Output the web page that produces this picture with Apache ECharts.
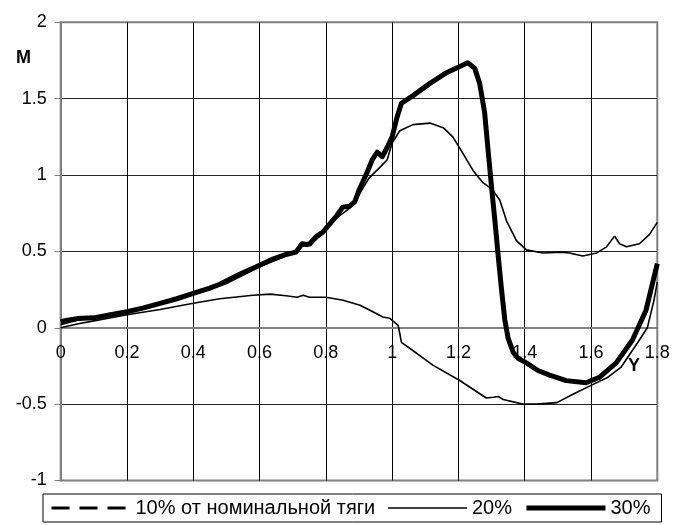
<!DOCTYPE html>
<html>
<head>
<meta charset="utf-8">
<script src="https://cdn.jsdelivr.net/npm/echarts@6/dist/echarts.min.js"></script>
<style>
  html, body { margin: 0; padding: 0; background: #fff; }
  #chart { width: 674px; height: 525px; }
</style>
</head>
<body>
<div id="chart"></div>
<script>
// Series names as shown in the legend
const seriesNames = ['10% от номинальной тяги', '20%', '30%'];

// Axis ticks
const xTicks = [0, 0.2, 0.4, 0.6, 0.8, 1, 1.2, 1.4, 1.6, 1.8];
const yTicks = [-1, -0.5, 0, 0.5, 1, 1.5, 2];

// 10% of nominal thrust
const x10 = [0, 0.05, 0.1, 0.2, 0.3, 0.4, 0.48, 0.58, 0.632, 0.68, 0.713, 0.732, 0.75, 0.8, 0.852, 0.903, 0.933, 0.972, 0.993, 1.003, 1.018, 1.023, 1.028, 1.074, 1.124, 1.204, 1.284, 1.305, 1.32, 1.335, 1.395, 1.435, 1.497, 1.55, 1.6, 1.65, 1.69, 1.74, 1.77, 1.79, 1.8];
const y10 = [0.0, 0.025, 0.045, 0.085, 0.12, 0.16, 0.19, 0.213, 0.22, 0.21, 0.2, 0.213, 0.2, 0.2, 0.18, 0.147, 0.115, 0.07, 0.062, 0.043, 0.016, -0.036, -0.095, -0.167, -0.246, -0.345, -0.46, -0.455, -0.45, -0.47, -0.5, -0.5, -0.49, -0.43, -0.377, -0.325, -0.26, -0.1, 0.0, 0.18, 0.3];

// 20%
const x20 = [0, 0.05, 0.1, 0.2, 0.3, 0.4, 0.5, 0.6, 0.68, 0.728, 0.75, 0.79, 0.833, 0.87, 0.9, 0.93, 0.963, 0.985, 1.0, 1.023, 1.063, 1.114, 1.154, 1.183, 1.214, 1.244, 1.274, 1.3, 1.325, 1.345, 1.375, 1.405, 1.455, 1.51, 1.535, 1.575, 1.617, 1.647, 1.671, 1.686, 1.707, 1.746, 1.776, 1.8];
const y20 = [0.02, 0.05, 0.065, 0.1, 0.155, 0.22, 0.29, 0.4, 0.47, 0.535, 0.54, 0.615, 0.72, 0.78, 0.87, 0.98, 1.05, 1.1, 1.21, 1.29, 1.33, 1.34, 1.31, 1.25, 1.14, 1.03, 0.95, 0.91, 0.835, 0.7, 0.57, 0.51, 0.49, 0.495, 0.49, 0.47, 0.49, 0.53, 0.6, 0.55, 0.53, 0.55, 0.61, 0.69];

// 30%
const x30 = [0, 0.02, 0.05, 0.1, 0.15, 0.2, 0.25, 0.3, 0.35, 0.4, 0.45, 0.48, 0.54, 0.6, 0.64, 0.68, 0.71, 0.728, 0.742, 0.752, 0.772, 0.79, 0.812, 0.833, 0.851, 0.872, 0.887, 0.9, 0.925, 0.94, 0.955, 0.97, 0.985, 1.0, 1.015, 1.028, 1.063, 1.114, 1.164, 1.204, 1.228, 1.249, 1.264, 1.279, 1.29, 1.3, 1.31, 1.32, 1.33, 1.34, 1.35, 1.365, 1.38, 1.405, 1.44, 1.475, 1.525, 1.585, 1.625, 1.676, 1.725, 1.766, 1.8];
const y30 = [0.04, 0.05, 0.06, 0.065, 0.085, 0.105, 0.13, 0.16, 0.19, 0.225, 0.26, 0.285, 0.35, 0.41, 0.45, 0.48, 0.495, 0.55, 0.545, 0.55, 0.6, 0.625, 0.68, 0.735, 0.79, 0.796, 0.824, 0.9, 1.02, 1.1, 1.15, 1.12, 1.18, 1.25, 1.38, 1.47, 1.52, 1.6, 1.67, 1.71, 1.735, 1.7, 1.6, 1.41, 1.15, 0.92, 0.7, 0.47, 0.25, 0.05, -0.07, -0.16, -0.2, -0.23, -0.28, -0.31, -0.346, -0.36, -0.325, -0.23, -0.08, 0.115, 0.42];

const zip = (xs, ys) => xs.map((x, i) => [x, ys[i]]);

const FONT = '"Liberation Sans", Arial, sans-serif';
const GRAY = '#808080';

// Grid-line colours; the outermost lines blend into the grey frame
const xSplitColors = xTicks.map((t, i) => (i === 0 || i === xTicks.length - 1) ? GRAY : '#000');
const ySplitColors = yTicks.map((t, i) => (i === 0 || i === yTicks.length - 1 || t === 0) ? GRAY : '#222');

const GRID = { left: 60.7, right: 16.7, top: 22.3, bottom: 44.5 };
const plotHeight = 525 - GRID.top - GRID.bottom;
// The x axis runs along y = 0, one third of the way up from the bottom edge
const zeroOffset = -plotHeight * (0 - yTicks[0]) / (yTicks[yTicks.length - 1] - yTicks[0]);

const chart = echarts.init(document.getElementById('chart'), null, { renderer: 'canvas' });

// Legend entries: a bare line sample, no marker in the middle
const legendEntry = (name, lineStyle) => ({
  name,
  lineStyle: Object.assign({ color: '#000', opacity: 1 }, lineStyle),
  itemStyle: { opacity: 0, color: 'transparent', borderWidth: 0 }
});

chart.setOption({
  animation: false,
  backgroundColor: '#fff',
  grid: Object.assign({ show: true, borderColor: GRAY, borderWidth: 2, backgroundColor: 'transparent' }, GRID),
  xAxis: {
    type: 'value',
    position: 'bottom',
    offset: zeroOffset,
    min: xTicks[0], max: xTicks[xTicks.length - 1], interval: 0.2,
    axisLine: { onZero: false, lineStyle: { color: GRAY, width: 2 } },
    axisTick: { show: false },
    axisLabel: { color: '#000', fontSize: 18, fontFamily: FONT, margin: 16,
      formatter: v => String(Math.round(v * 10) / 10) },
    splitLine: { show: true, lineStyle: { color: xSplitColors, width: 1 } }
  },
  yAxis: {
    type: 'value',
    min: yTicks[0], max: yTicks[yTicks.length - 1], interval: 0.5,
    axisLine: { show: true, onZero: false, lineStyle: { color: GRAY, width: 2 } },
    axisTick: { show: true, length: 6, lineStyle: { color: GRAY, width: 1 } },
    axisLabel: { color: '#000', fontSize: 18, fontFamily: FONT, margin: 14 },
    splitLine: { show: true, lineStyle: { color: ySplitColors, width: 1 } }
  },
  legend: {
    left: 43, top: 494,
    orient: 'horizontal',
    borderColor: '#000', borderWidth: 1,
    padding: [4, 11, 4, 7],
    itemWidth: 79, itemHeight: 14, itemGap: 12,
    textStyle: { color: '#000', fontSize: 20, fontFamily: FONT },
    data: [
      legendEntry(seriesNames[0], { width: 3, type: [18, 10] }),
      legendEntry(seriesNames[1], { width: 1.5 }),
      legendEntry(seriesNames[2], { width: 5 })
    ]
  },
  graphic: [
    { type: 'text', left: 16, top: 49, style: { text: 'M', font: 'bold 18px ' + FONT, fill: '#000' } },
    { type: 'text', left: 628, top: 357, style: { text: 'Y', font: 'bold 18px ' + FONT, fill: '#000' } }
  ],
  series: [
    { name: seriesNames[0], type: 'line', data: zip(x10, y10), showSymbol: false, symbol: 'none',
      lineStyle: { color: '#000', width: 1.6 }, itemStyle: { color: '#000' } },
    { name: seriesNames[1], type: 'line', data: zip(x20, y20), showSymbol: false, symbol: 'none',
      lineStyle: { color: '#000', width: 1.6 }, itemStyle: { color: '#000' } },
    { name: seriesNames[2], type: 'line', data: zip(x30, y30), showSymbol: false, symbol: 'none',
      lineStyle: { color: '#000', width: 5, join: 'round' }, itemStyle: { color: '#000' } }
  ]
});
</script>
</body>
</html>
